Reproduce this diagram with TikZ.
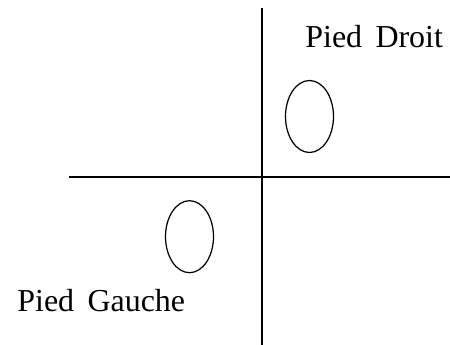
\documentclass[tikz,border=0pt]{standalone}
\usepackage{fontspec}
\setmainfont{Liberation Serif}
\usetikzlibrary{shapes.geometric}
\tikzset{
  foot/.style={draw, ellipse, line width=0.7pt, inner sep=0pt, minimum width=0.96cm, minimum height=1.44cm},
  label/.style={anchor=base west, inner sep=0pt, font=\fontsize{18.2}{20}\selectfont}
}
\begin{document}
\begin{tikzpicture}[x=0.02cm, y=0.02cm]
      \useasboundingbox (0, 0) rectangle (450, 345);
      \coordinate (top) at (262, 337);
      \coordinate (bottom) at (262, 0);
      \coordinate (left) at (69, 168);
      \coordinate (right) at (450, 168);
      \draw[line width=1.1pt] (top) -- (bottom);
      \draw[line width=1.1pt] (left) -- (right);
      \node[foot] (droit) at (309.5, 228.5) {};
      \node[foot] (gauche) at (189.5, 108.3) {};
      \node[label] (ldroit) at (305, 297) {Pied~\,Droit};
      \node[label] (lgauche) at (17, 33.3) {Pied~\,Gauche};
\end{tikzpicture}
\end{document}
